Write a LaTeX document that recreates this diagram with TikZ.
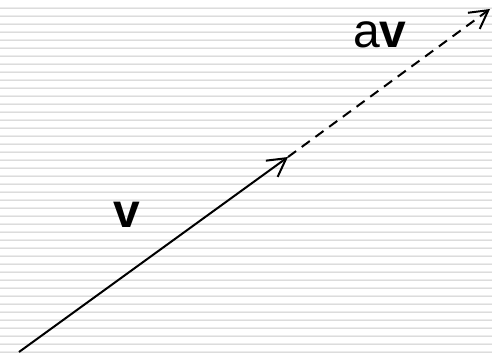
\documentclass[tikz,border=0pt]{standalone}
\usepackage{fontspec}
\setmainfont{Liberation Sans}
\usetikzlibrary{arrows.meta}
\definecolor{stripedark}{HTML}{DCDCDC}
\definecolor{stripelight}{HTML}{ECECEC}
\begin{document}
\begin{tikzpicture}[x=1pt,y=-1pt,
  vec/.style={line width=2pt,-{Straight Barb[length=18pt,width=20pt,line width=2pt]}},
  lbl/.style={font=\fontsize{48}{48}\selectfont,inner sep=0pt}]
\useasboundingbox (0,0) rectangle (492,355);
\fill[white] (0,0) rectangle (492,355);
\foreach \k in {0,...,43} {
  \fill[stripelight] (0,{7+8*\k}) rectangle (492,{8+8*\k});
  \fill[stripedark] (0,{8+8*\k}) rectangle (492,{9.2+8*\k});
}
\coordinate (o) at (19,352);
\coordinate (p) at (288,157);
\coordinate (q) at (490,9);
\draw[vec] (o) -- (p);
\draw[vec,dash pattern=on 10pt off 7pt] (p) -- (q);
\node[lbl,anchor=base] (v) at (127,228) {\textbf{v}};
\node[lbl,anchor=base west] (av) at (353,48) {a\textbf{v}};
\end{tikzpicture}
\end{document}
